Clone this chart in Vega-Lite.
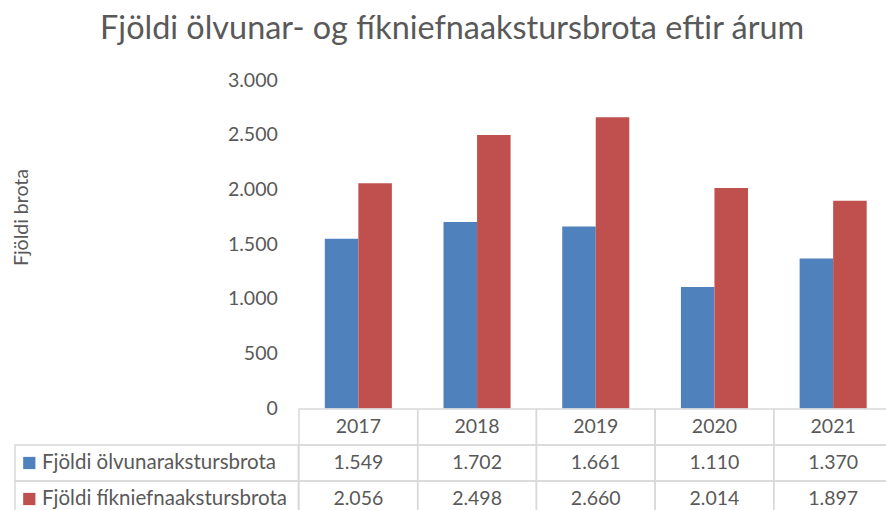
{
  "$schema": "https://vega.github.io/schema/vega-lite/v6.json",
  "padding": {"left": 11, "top": 12, "right": 0, "bottom": 0},
  "background": "white",
  "title": {
    "text": "Fjöldi ölvunar- og fíkniefnaakstursbrota eftir árum",
    "font": "Lato",
    "fontSize": 32.4,
    "fontWeight": "normal",
    "color": "#595959",
    "anchor": "middle",
    "offset": 25
  },
  "datasets": {
    "d": [
      {"year": "2017", "series": "Fjöldi ölvunarakstursbrota", "value": 1549},
      {"year": "2018", "series": "Fjöldi ölvunarakstursbrota", "value": 1702},
      {"year": "2019", "series": "Fjöldi ölvunarakstursbrota", "value": 1661},
      {"year": "2020", "series": "Fjöldi ölvunarakstursbrota", "value": 1110},
      {"year": "2021", "series": "Fjöldi ölvunarakstursbrota", "value": 1370},
      {"year": "2017", "series": "Fjöldi fíkniefnaakstursbrota", "value": 2056},
      {"year": "2018", "series": "Fjöldi fíkniefnaakstursbrota", "value": 2498},
      {"year": "2019", "series": "Fjöldi fíkniefnaakstursbrota", "value": 2660},
      {"year": "2020", "series": "Fjöldi fíkniefnaakstursbrota", "value": 2014},
      {"year": "2021", "series": "Fjöldi fíkniefnaakstursbrota", "value": 1897}
    ]
  },
  "columns": 2,
  "spacing": 0,
  "bounds": "flush",
  "resolve": {"scale": {"x": "independent", "y": "independent"}},
  "concat": [
    {
      "width": 283.3,
      "height": 328.4,
      "data": {"values": []},
      "mark": "rect",
      "encoding": {}
    },
    {
      "width": 593.5,
      "height": 328.4,
      "data": {"name": "d"},
      "mark": {"type": "bar"},
      "encoding": {
        "x": {"field": "year", "type": "nominal", "scale": {"paddingInner": 0.435, "paddingOuter": 0.2175}, "axis": null},
        "xOffset": {"field": "series", "type": "nominal", "sort": ["Fjöldi ölvunarakstursbrota", "Fjöldi fíkniefnaakstursbrota"]},
        "y": {
          "field": "value", "type": "quantitative",
          "scale": {"domain": [0, 3000]},
          "axis": {
            "values": [0, 500, 1000, 1500, 2000, 2500, 3000],
            "format": ",.0f",
            "domain": false, "ticks": false, "grid": false,
            "labelPadding": 21.7,
            "labelFont": "Lato", "labelFontSize": 19.5, "labelColor": "#595959",
            "title": "Fjöldi brota",
            "titleFont": "Lato", "titleFontSize": 19.5, "titleColor": "#595959", "titleFontWeight": "normal",
            "titleX": -272, "titleY": 137, "titleBaseline": "alphabetic"
          }
        },
        "color": {
          "field": "series", "type": "nominal",
          "scale": {"domain": ["Fjöldi ölvunarakstursbrota", "Fjöldi fíkniefnaakstursbrota"], "range": ["#4F81BD", "#C0504D"]},
          "legend": null
        }
      }
    },
    {
      "width": 283.3,
      "height": 108,
      "data": {"name": "d"},
      "transform": [{"filter": "datum.year == '2017'"}],
      "layer": [
        {
          "mark": {"type": "rect", "fill": null, "stroke": "#D9D9D9", "strokeWidth": 1.5},
          "encoding": {
            "y": {"field": "series", "type": "nominal", "scale": {"domain": ["hdr", "Fjöldi ölvunarakstursbrota", "Fjöldi fíkniefnaakstursbrota"], "paddingInner": 0, "paddingOuter": 0}, "axis": null}
          }
        },
        {
          "mark": {"type": "point", "shape": "square", "filled": true, "size": 150, "opacity": 1, "xOffset": 14.3},
          "encoding": {
            "x": {"datum": 0, "type": "quantitative", "scale": {"domain": [0, 1]}, "axis": null},
            "y": {"field": "series", "type": "nominal", "axis": null},
            "color": {
              "field": "series", "type": "nominal",
              "scale": {"domain": ["Fjöldi ölvunarakstursbrota", "Fjöldi fíkniefnaakstursbrota"], "range": ["#4F81BD", "#C0504D"]},
              "legend": null
            }
          }
        },
        {
          "mark": {"type": "text", "align": "left", "baseline": "middle", "dx": 27, "font": "Lato", "fontSize": 20.5, "color": "#595959"},
          "encoding": {
            "x": {"datum": 0, "type": "quantitative", "axis": null},
            "y": {"field": "series", "type": "nominal", "axis": null},
            "text": {"field": "series"}
          }
        }
      ]
    },
    {
      "width": 593.5,
      "height": 108,
      "data": {"name": "d"},
      "layer": [
        {
          "transform": [{"filter": "datum.series == 'Fjöldi ölvunarakstursbrota'"}],
          "mark": {"type": "rect", "fill": null, "stroke": "#D9D9D9", "strokeWidth": 1.5},
          "encoding": {
            "x": {"field": "year", "type": "nominal", "scale": {"paddingInner": 0, "paddingOuter": 0}, "axis": null},
            "y": {"datum": "hdr", "type": "nominal", "scale": {"domain": ["hdr", "Fjöldi ölvunarakstursbrota", "Fjöldi fíkniefnaakstursbrota"], "paddingInner": 0, "paddingOuter": 0}, "axis": null}
          }
        },
        {
          "transform": [{"filter": "datum.series == 'Fjöldi ölvunarakstursbrota'"}],
          "mark": {"type": "text", "baseline": "middle", "font": "Lato", "fontSize": 19.5, "color": "#595959"},
          "encoding": {
            "x": {"field": "year", "type": "nominal", "axis": null},
            "y": {"datum": "hdr", "type": "nominal", "axis": null},
            "text": {"field": "year"}
          }
        },
        {
          "mark": {"type": "rect", "fill": null, "stroke": "#D9D9D9", "strokeWidth": 1.5},
          "encoding": {
            "x": {"field": "year", "type": "nominal", "axis": null},
            "y": {"field": "series", "type": "nominal", "axis": null}
          }
        },
        {
          "mark": {"type": "text", "baseline": "middle", "font": "Lato", "fontSize": 19.5, "color": "#595959"},
          "encoding": {
            "x": {"field": "year", "type": "nominal", "axis": null},
            "y": {"field": "series", "type": "nominal", "axis": null},
            "text": {"field": "value", "type": "quantitative", "format": ","}
          }
        }
      ]
    }
  ],
  "config": {
    "view": {"stroke": null},
    "locale": {"number": {"decimal": ",", "thousands": ".", "grouping": [3], "currency": ["", ""]}}
  }
}
